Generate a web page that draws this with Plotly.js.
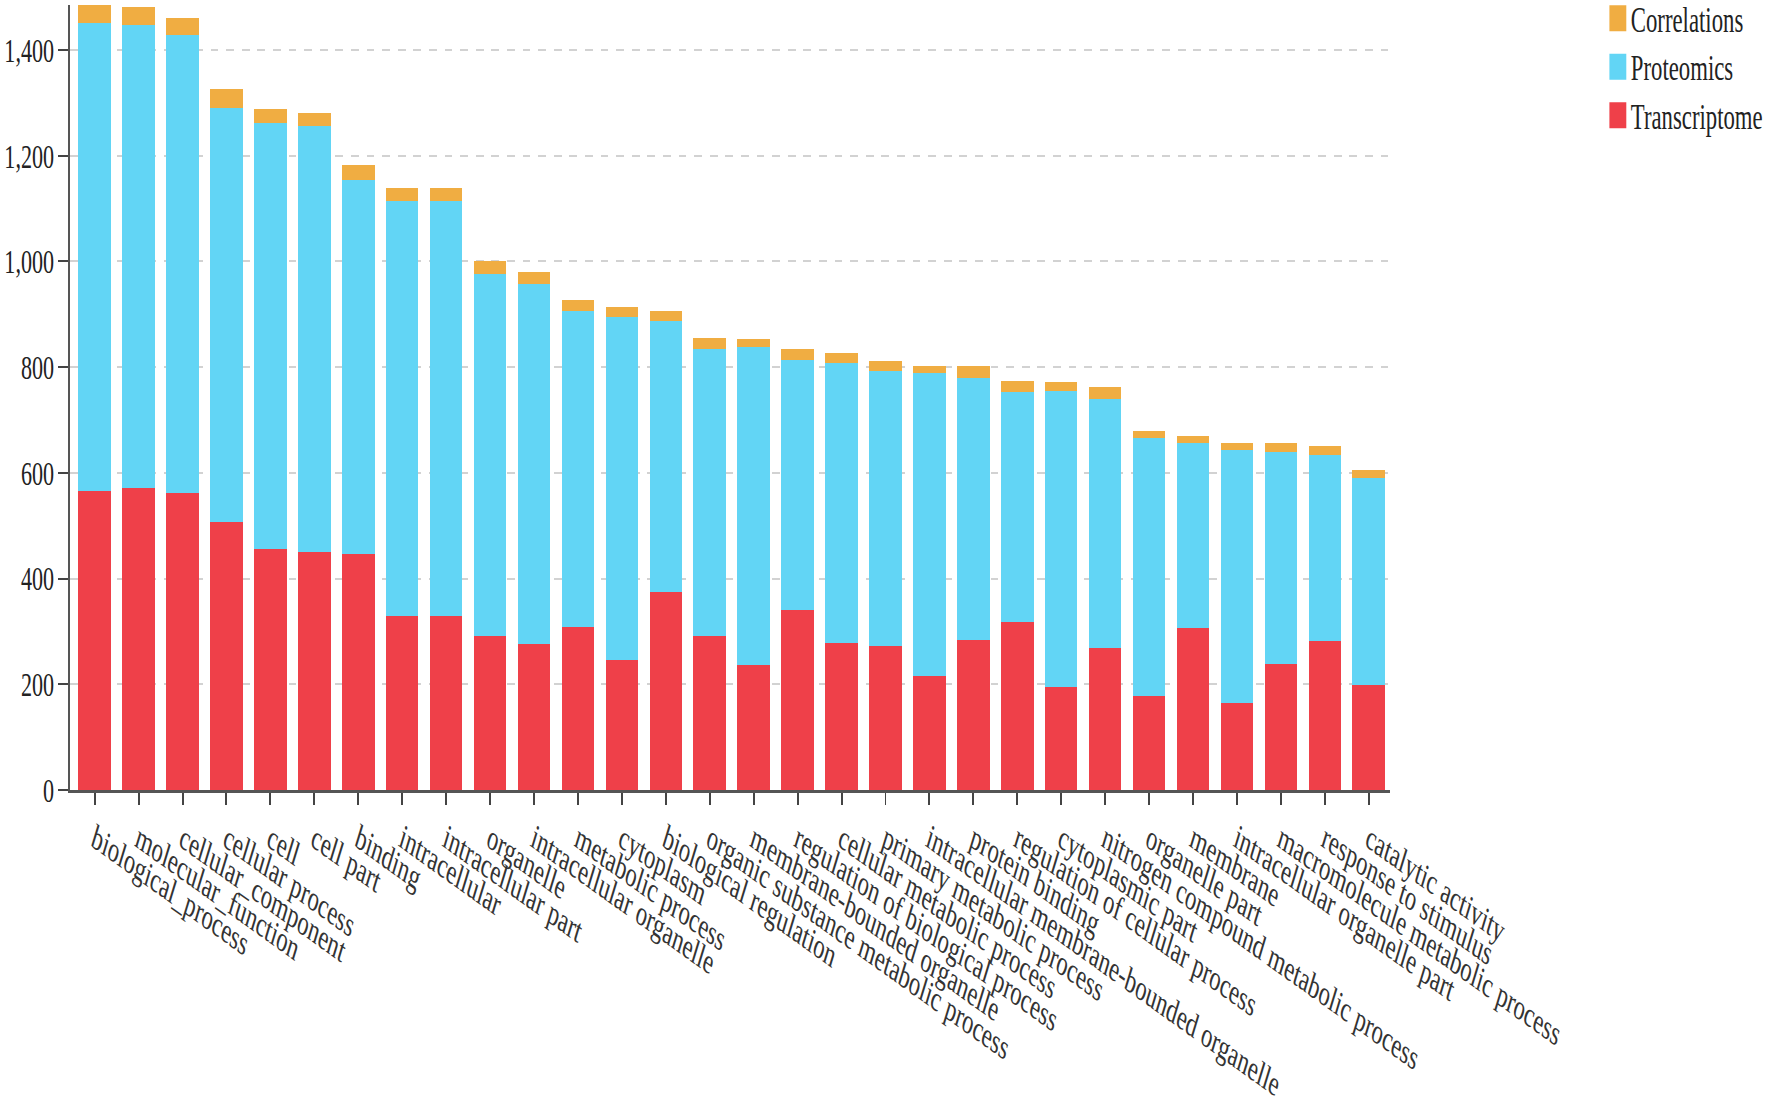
<!DOCTYPE html>
<html>
<head>
<meta charset="utf-8">
<script src="https://cdn.plot.ly/plotly-3.0.1.min.js"></script>
<style>
  html, body { margin: 0; padding: 0; background: #fff; }
  #wrap { width: 1772px; height: 1109px; overflow: hidden; position: relative; }
  #chart { height: 1109px; transform-origin: 0 0; }
</style>
</head>
<body>
<div id="wrap"><div id="chart"></div></div>
<script>
// ---- data ----
const categories = [
  "biological_process", "molecular_function", "cellular_component", "cellular process",
  "cell", "cell part", "binding", "intracellular", "intracellular part", "organelle",
  "intracellular organelle", "metabolic process", "cytoplasm", "biological regulation",
  "organic substance metabolic process", "membrane-bounded organelle",
  "regulation of biological process", "cellular metabolic process",
  "primary metabolic process", "intracellular membrane-bounded organelle",
  "protein binding", "regulation of cellular process", "cytoplasmic part",
  "nitrogen compound metabolic process", "organelle part", "membrane",
  "intracellular organelle part", "macromolecule metabolic process",
  "response to stimulus", "catalytic activity"
];
const transcriptome = [566, 571, 562, 507, 455, 450, 446, 329, 329, 292,
                       277, 309, 246, 374, 292, 236, 341, 279, 272, 216,
                       284, 318, 195, 268, 178, 307, 165, 238, 282, 199];
const proteomics    = [885, 877, 867, 784, 807, 806, 708, 785, 785, 684,
                       680, 598, 649, 513, 542, 602, 473, 528, 520, 572,
                       496, 435, 560, 472, 487, 350, 479, 402, 351, 391];
const correlations  = [34, 34, 32, 35, 26, 25, 28, 24, 24, 24,
                       23, 20, 18, 20, 22, 15, 20, 20, 19, 15,
                       23, 20, 16, 22, 15, 13, 13, 16, 18, 15];
const yTickVals = [0, 200, 400, 600, 800, 1000, 1200, 1400];

// ---- geometry (the source image is horizontally condensed) ----
const SQ = 0.65;
const W = Math.round(1772 / SQ);
const H = 1109;
document.getElementById('chart').style.width = W + 'px';
document.getElementById('chart').style.transform = 'scaleX(' + SQ + ')';

const totals = categories.map((c, i) => transcriptome[i] + proteomics[i] + correlations[i]);
const yMax = Math.max(...totals);

const colors = { t: '#EF4049', p: '#62D5F5', c: '#F0AD42' };
const font = 'Liberation Serif, Times New Roman, serif';

const traces = [
  { type: 'bar', name: 'Transcriptome', x: categories, y: transcriptome,
    marker: { color: colors.t }, legendgroup: 't' },
  { type: 'bar', name: 'Proteomics', x: categories, y: proteomics,
    marker: { color: colors.p }, legendgroup: 'p' },
  { type: 'bar', name: 'Correlations', x: categories, y: correlations,
    marker: { color: colors.c }, legendgroup: 'c' }
];

const ml = 70 / SQ, pw = 1320 / SQ;
const layout = {
  width: W, height: H,
  margin: { l: ml, r: W - ml - pw, t: 5, b: H - 790, pad: 0 },
  barmode: 'stack',
  bargap: 0.26,
  paper_bgcolor: '#fff', plot_bgcolor: '#fff',
  font: { family: font, color: '#222' },
  showlegend: true,
  legend: {
    xref: 'container', yref: 'container',
    x: 2469 / W, y: 1.0, xanchor: 'left', yanchor: 'top',
    traceorder: 'reversed', tracegroupgap: 12,
    font: { family: font, size: 35, color: '#222' },
    bgcolor: 'rgba(0,0,0,0)', borderwidth: 0
  },
  xaxis: {
    type: 'category',
    range: [-0.557, 29.477],
    showgrid: false,
    showline: true, linecolor: '#555', linewidth: 3,
    ticks: 'outside', ticklen: 12, tickwidth: 3, tickcolor: '#444',
    tickangle: 25,
    tickfont: { family: font, size: 35, color: '#333' },
    zeroline: false
  },
  yaxis: {
    range: [0, yMax],
    tickvals: yTickVals,
    tickformat: ',d',
    showgrid: true, gridcolor: '#d2d2d2', gridwidth: 2, griddash: '12px,12px',
    showline: true, linecolor: '#555', linewidth: 3,
    ticks: 'outside', ticklen: 15, tickwidth: 2, tickcolor: '#444',
    tickfont: { family: font, size: 34, color: '#222' },
    zeroline: false
  }
};

Plotly.newPlot('chart', traces, layout, { displayModeBar: false, staticPlot: true }).then(() => {
  document.querySelectorAll('#chart .legend .legendpoints path').forEach(p => {
    p.setAttribute('d', 'M-13,-13H13V13H-13Z');
  });
  // nudge the legend block up towards the top, as in the source figure
  const lg = document.querySelector('#chart .legend');
  if (lg) {
    const tr = lg.getAttribute('transform') || '';
    const m = tr.match(/translate\(\s*([-\d.]+)[ ,]+([-\d.]+)\s*\)/);
    if (m) lg.setAttribute('transform', 'translate(' + m[1] + ',' + (parseFloat(m[2]) - 11) + ')');
  }
});
</script>
</body>
</html>
